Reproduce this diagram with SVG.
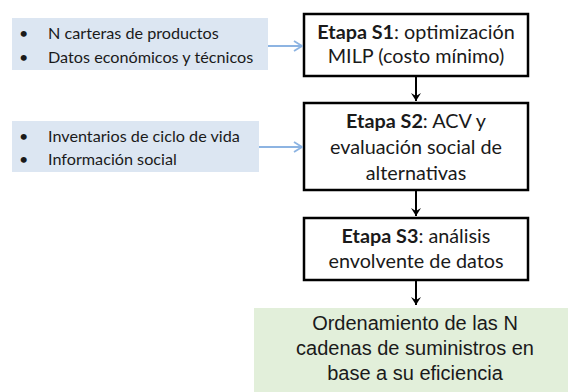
<svg xmlns="http://www.w3.org/2000/svg" width="568" height="392" viewBox="0 0 568 392">
<defs>
<style>
.inp{fill:#dce6f2;}
.stage{fill:#fff;stroke:#000;stroke-width:2.5;}
.res{fill:#e2efda;}
.t{font-family:Lato,"Open Sans",sans-serif;font-size:19.8px;fill:#1a1a1a;text-anchor:middle;}
.b{font-weight:bold;}
.s{font-family:Lato,"Open Sans",sans-serif;font-size:16.2px;fill:#1a1a1a;}
.g{font-family:"Liberation Sans",Arial,sans-serif;font-size:20px;fill:#1a1a1a;text-anchor:middle;}
.blue{stroke:#8db4e2;stroke-width:2;fill:none;}
.blk{stroke:#000;stroke-width:2;fill:none;}
</style>
<marker id="ab" viewBox="0 0 10 12" refX="9" refY="6" markerWidth="10" markerHeight="12" markerUnits="userSpaceOnUse" orient="auto"><path d="M1,1 L9,6 L1,11" fill="none" stroke="#8db4e2" stroke-width="1.8"/></marker>
<marker id="ak" viewBox="0 0 12 12" refX="6" refY="11" markerWidth="12" markerHeight="12" markerUnits="userSpaceOnUse" orient="0"><path d="M1,3 L6,11 L11,3 L6,6 Z" fill="#000"/></marker>
</defs>
<g id="input1">
<rect class="inp" x="12" y="18" width="256" height="52"/>
<text class="s" x="19" y="39">•</text><text class="s" x="48" y="39">N carteras de productos</text>
<text class="s" x="19" y="63">•</text><text class="s" x="48" y="63">Datos económicos y técnicos</text>
</g>
<g id="input2">
<rect class="inp" x="12" y="121" width="247" height="51"/>
<text class="s" x="19" y="142">•</text><text class="s" x="48" y="142">Inventarios de ciclo de vida</text>
<text class="s" x="19" y="165">•</text><text class="s" x="48" y="165">Información social</text>
</g>
<g id="s1">
<rect class="stage" x="304" y="14" width="224" height="62"/>
<text class="t" x="416" y="39"><tspan class="b">Etapa S1</tspan>: optimización</text>
<text class="t" x="416" y="63">MILP (costo mínimo)</text>
</g>
<g id="s2">
<rect class="stage" x="304" y="103" width="224" height="87"/>
<text class="t" x="416" y="128"><tspan class="b">Etapa S2</tspan>: ACV y</text>
<text class="t" x="416" y="154">evaluación social de</text>
<text class="t" x="416" y="180">alternativas</text>
</g>
<g id="s3">
<rect class="stage" x="304" y="218" width="224" height="62"/>
<text class="t" x="416" y="243"><tspan class="b">Etapa S3</tspan>: análisis</text>
<text class="t" x="416" y="268">envolvente de datos</text>
</g>
<g id="result">
<rect class="res" x="254" y="308" width="314" height="84"/>
<text class="g" x="415" y="330">Ordenamiento de las N</text>
<text class="g" x="415" y="355">cadenas de suministros en</text>
<text class="g" x="415" y="380">base a su eficiencia</text>
</g>
<g id="connectors">
<line class="blue" x1="268" y1="46" x2="302" y2="46" marker-end="url(#ab)"/>
<line class="blue" x1="259" y1="147" x2="302" y2="147" marker-end="url(#ab)"/>
<line class="blk" x1="416" y1="77" x2="416" y2="101" marker-end="url(#ak)"/>
<line class="blk" x1="416" y1="191" x2="416" y2="216" marker-end="url(#ak)"/>
<line class="blk" x1="416" y1="281" x2="416" y2="305" marker-end="url(#ak)"/>
</g>
</svg>
